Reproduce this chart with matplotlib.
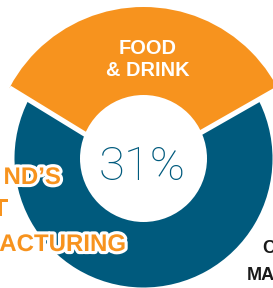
import matplotlib
matplotlib.use('Agg')
import matplotlib.pyplot as plt
from matplotlib.patches import Circle
import matplotlib.patheffects as pe

# ---- data ----
categories = ['Food & Drink', 'Other manufacturing']
shares = [33, 67]
center_label = '31%'
slice_label_lines = ['FOOD', '& DRINK']
left_label_lines = ['ND\u2019S', 'T', 'ACTURING']
right_label_lines = ['C', 'MA']

ORANGE = '#F7931E'
BLUE = '#005A7D'

W, H = 273, 288
fig = plt.figure(figsize=(W / 100, H / 100), dpi=100)
ax = fig.add_axes([0, 0, 1, 1])

ring_c = (143.5, 158.5)
apex = (139.5, 167.6)
span = shares[0] / sum(shares) * 360
start = 270.9 - span / 2  # y axis inverted: ~270 points up on screen

# blue ring base
blue_w, _ = ax.pie(shares, center=ring_c, radius=129, colors=[BLUE, BLUE],
                   startangle=start, wedgeprops=dict(linewidth=0))
for w in blue_w:
    w.set_zorder(1)

# orange slice with white gap stroke
or_w, _ = ax.pie(shares, center=apex, radius=175, colors=[ORANGE, 'none'],
                 startangle=start,
                 wedgeprops=dict(edgecolor='white', linewidth=3.7))
or_w[1].set_visible(False)
or_w[0].set_zorder(2)

ax.set_xlim(0, W)
ax.set_ylim(H, 0)
ax.set_aspect('equal')
ax.axis('off')

clip = Circle(ring_c, 151.5, facecolor='none', edgecolor='none')
ax.add_patch(clip)
clip.set_visible(False)
or_w[0].set_clip_on(True)
or_w[0].set_clip_path(clip)

# hole
ax.add_patch(Circle(ring_c, 63.5, facecolor='white', edgecolor='none', zorder=3))

bold = dict(family=['Liberation Sans', 'DejaVu Sans'], fontweight='bold')

# slice label
for txt, yb in zip(slice_label_lines, [54, 76]):
    ax.text(148, yb, txt, color='white', fontsize=14.4, ha='center',
            va='baseline', zorder=5, **bold)

# center value
ax.text(142, 180, center_label, color=BLUE, fontsize=34, ha='center',
        va='baseline', family=['Roboto', 'DejaVu Sans'], fontweight='light',
        zorder=5)

# left label (clipped)
stroke = [pe.withStroke(linewidth=4.5, foreground='white')]
for txt, xr, yb in zip(left_label_lines, [61, 8, 126], [184, 216, 251]):
    ax.text(xr, yb, txt, color=ORANGE, fontsize=17.3, ha='right',
            va='baseline', zorder=6, path_effects=stroke, **bold)

# right label (clipped)
for txt, xl, yb in zip(right_label_lines, [262, 247], [253, 280]):
    ax.text(xl, yb, txt, color='#1a1a1a', fontsize=13, ha='left',
            va='baseline', zorder=6, **bold)

fig.savefig('out.png', dpi=100)
